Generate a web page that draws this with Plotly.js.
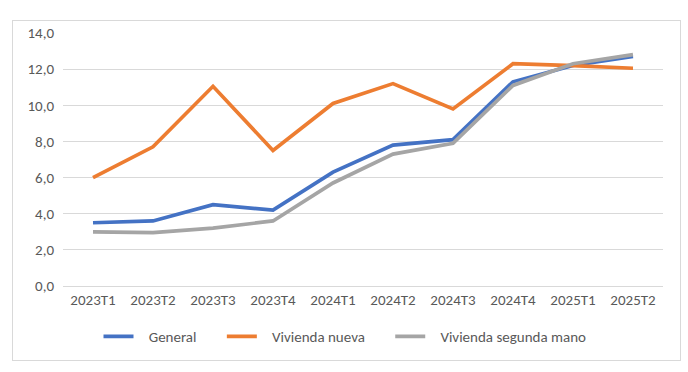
<!DOCTYPE html>
<html>
<head>
<meta charset="utf-8">
<script src="https://cdn.plot.ly/plotly-3.0.1.min.js"></script>
<style>
html,body{margin:0;padding:0;background:#fff;}
#wrap{position:relative;width:688px;height:372px;}
#frame{position:absolute;left:12px;top:20px;width:667px;height:339px;border:1px solid #d9d9d9;}
#chart{position:absolute;left:0;top:0;width:688px;height:372px;}
</style>
</head>
<body>
<div id="wrap"><div id="frame"></div><div id="chart"></div></div>
<script>
const categories = ["2023T1","2023T2","2023T3","2023T4","2024T1","2024T2","2024T3","2024T4","2025T1","2025T2"];
const general = [3.5, 3.6, 4.5, 4.2, 6.3, 7.8, 8.1, 11.3, 12.2, 12.7];
const viviendaNueva = [6.0, 7.7, 11.05, 7.5, 10.1, 11.2, 9.8, 12.3, 12.2, 12.05];
const viviendaSegunda = [3.0, 2.95, 3.2, 3.6, 5.7, 7.3, 7.9, 11.1, 12.3, 12.8];
const seriesNames = ["General", "Vivienda nueva", "Vivienda segunda mano"];
const yTicks = [0, 2, 4, 6, 8, 10, 12, 14];

const font = "Carlito, Calibri, Lato, sans-serif";
const colors = ["#4472C4", "#ED7D31", "#A5A5A5"];
const pre = "\u00A0\u00A0\u00A0";
const post = "\u00A0\u00A0\u00A0\u00A0\u00A0\u00A0";
const data = [general, viviendaNueva, viviendaSegunda].map((ys, i) => ({
  type: "scatter", mode: "lines", x: categories, y: ys,
  name: pre + seriesNames[i] + (i < 2 ? post : ""),
  line: {color: colors[i], width: 3.7}, hoverinfo: "skip"
}));
const layout = {
  width: 688, height: 372,
  margin: {l: 63, r: 25, t: 33, b: 86},
  paper_bgcolor: "rgba(0,0,0,0)", plot_bgcolor: "rgba(0,0,0,0)",
  separators: ",.",
  font: {family: font, size: 15, color: "#595959"},
  showlegend: true,
  legend: {orientation: "h", x: 0.47, xanchor: "center", y: -0.2, yanchor: "middle",
           font: {family: font, size: 15, color: "#595959"}, traceorder: "normal"},
  xaxis: {type: "category", range: [-0.5, 9.5], showgrid: false, zeroline: false, showline: false,
          ticks: "", ticklabelstandoff: 3, tickfont: {family: font, size: 15, color: "#595959"}, fixedrange: true},
  yaxis: {range: [0, 14], tickvals: yTicks, tickformat: ".1f", showgrid: true, gridcolor: "#d9d9d9",
          gridwidth: 1, zeroline: true, zerolinecolor: "#d9d9d9", zerolinewidth: 1, showline: false,
          ticks: "", ticklabelstandoff: 8, tickfont: {family: font, size: 15, color: "#595959"}, fixedrange: true}
};
Plotly.newPlot("chart", data, layout, {staticPlot: true, displayModeBar: false});
</script>
</body>
</html>
